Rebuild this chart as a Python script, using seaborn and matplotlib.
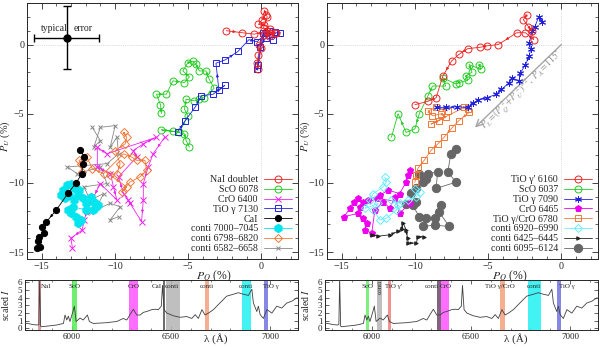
import matplotlib
matplotlib.use("Agg")
import matplotlib.pyplot as plt
from matplotlib.ticker import MultipleLocator
import seaborn as sns

# ---------------- data: left panel (P_Q, P_U in %) ----------------
nai_q = [-2.4, -1.3, -0.5, 0.4, 0.9, 0.6, 0.2, -0.2, 0.05, 0.3, 0.2, 0.4, 0.15, 0.6, 1.0, 0.5, 0.2, -0.15, -0.05, -0.2, -0.3, -0.2]
nai_u = [1.0, 0.85, 0.75, 0.95, 0.8, 1.1, 1.4, 1.45, 1.8, 2.15, 2.45, 2.0, 1.2, 0.85, 0.8, 0.6, 0.7, 0.0, -0.25, -0.75, -1.3, -1.75]

sco1_q = [-6.82, -6.89, -7.16, -6.49, -6.04, -5.25, -4.91, -5.36, -5.02, -4.68, -4.46, -4.23, -3.78, -3.56, -3.22, -3.9, -4.23, -4.57, -5.14, -5.25, -5.02, -5.59, -6.82, -6.04, -5.25, -5.14, -4.91]
sco1_u = [-4.98, -4.35, -3.59, -3.59, -2.63, -2.75, -2.34, -1.91, -1.32, -1.2, -1.44, -1.91, -1.91, -2.51, -3.16, -3.83, -3.95, -4.07, -3.95, -4.67, -5.14, -6.34, -6.17, -6.27, -6.46, -6.94, -7.42]

cro1_q = [-6.6, -7.39, -7.73, -8.06, -8.06, -8.18, -8.96, -9.08, -9.41, -9.75, -8.51, -8.74, -8.06, -7.16, -10.54, -11.2, -11.2, -10.3, -10.1, -9.86, -11.0, -11.55, -11.9, -12.1, -12.23, -13.0, -12.9]
cro1_u = [-6.7, -7.9, -8.85, -10.05, -11.24, -12.8, -11.48, -11.24, -10.77, -9.57, -8.13, -7.66, -7.18, -6.7, -7.9, -7.42, -8.85, -9.33, -10.29, -11.24, -10.05, -11.24, -12.0, -12.7, -13.4, -14.0, -14.7]

tio1_q = [-5.7, -5.2, -4.5, -4.1, -3.3, -2.5, -2.9, -3.1, -2.45, -1.6, -0.85, -0.3, 0.3, 0.9, 1.3, 0.8, 0.3, -0.1, -0.3, -0.2, 0.1, 0.6]
tio1_u = [-6.3, -5.5, -4.5, -3.7, -3.6, -2.95, -3.3, -1.35, -1.1, -0.5, 0.35, 0.2, 0.8, 0.9, 0.85, 0.35, 0.5, -0.2, -1.8, -1.5, 0.8, 0.95]

cai_q = [-12.35, -12.1, -12.2, -12.25, -12.65, -13.2, -14.0, -14.7, -15.0, -14.85, -15.2, -15.25, -15.1, -15.3]
cai_u = [-7.6, -8.13, -8.6, -9.33, -10.0, -10.75, -11.96, -12.85, -13.16, -13.6, -13.9, -14.2, -14.6, -14.7]

c7000_q = [-13.66, -13.55, -13.3, -12.98, -12.76, -12.42, -12.53, -13.1, -13.43, -12.76, -12.2, -11.64, -11.4, -11.18, -11.3, -11.97, -11.52, -11.97, -12.87, -13.2, -12.98, -12.65, -12.31, -12.53]
c7000_u = [-10.88, -10.52, -10.17, -10.05, -10.4, -10.52, -10.88, -10.88, -11.12, -11.24, -11.12, -11.0, -11.36, -11.6, -11.72, -11.48, -11.96, -11.96, -11.72, -11.96, -12.2, -12.44, -12.68, -12.91]

c6798_q = [-9.41, -9.19, -9.3, -9.98, -9.64, -9.86, -10.32, -9.19, -9.53, -8.96, -8.29, -7.84, -7.95, -8.51, -8.85, -9.41, -10.77, -11.55, -11.9, -12.45, -12.34, -12.23]
c6798_u = [-6.34, -6.7, -7.18, -7.66, -8.61, -9.33, -9.45, -10.29, -10.65, -9.93, -9.57, -9.09, -8.37, -8.37, -8.13, -7.9, -9.33, -8.97, -8.13, -8.37, -8.61, -9.21]

c6582_q = [-11.55, -10.99, -11.44, -10.99, -9.98, -10.32, -9.86, -9.75, -10.54, -13.24, -12.57, -10.99, -10.54, -12.12, -11.67, -10.77, -11.22, -11.9, -10.32, -9.64, -10.32, -9.75]
c6582_u = [-5.98, -6.94, -7.42, -5.98, -5.86, -7.42, -6.7, -7.9, -8.61, -8.85, -9.33, -8.85, -10.05, -10.29, -11.24, -10.77, -11.72, -12.2, -11.48, -11.72, -12.68, -12.44]

err_q, err_u = [-13.3], [0.5]
err_dq, err_du = 2.2, 2.3

# ---------------- data: right panel ----------------
tiop_q = [-2.35, -2.6, -2.25, -2.0, -1.9, -2.45, -3.05, -4.3, -5.1, -5.55, -6.4, -7.0, -7.5, -8.1, -8.55, -9.1, -10.0]
tiop_u = [2.15, 1.8, 1.3, 0.95, 0.35, 0.85, 0.85, 0.0, -0.1, -0.2, -0.3, -0.72, -1.2, -2.3, -3.85, -4.1, -4.35]

sco2_q = [-5.6, -5.5, -6.3, -6.1, -6.5, -6.4, -7.0, -7.2, -8.1, -7.9, -8.8, -9.1, -9.7, -10.0, -10.6, -11.15, -11.6]
sco2_u = [-1.45, -1.8, -1.45, -2.0, -2.25, -2.6, -2.75, -2.85, -2.4, -3.0, -3.0, -3.7, -5.0, -6.1, -6.35, -5.0, -6.7]

tio2_q = [-1.3, -1.55, -1.8, -2.0, -2.2, -2.1, -2.2, -2.45, -2.8, -2.9, -3.35, -3.55, -4.1, -4.45, -5.1, -5.7, -6.05, -6.4, -7.15, -7.85, -8.5]
tio2_u = [1.65, 2.0, 1.3, 0.95, 0.1, -0.35, -0.85, -1.45, -2.05, -2.65, -2.4, -2.75, -3.25, -3.6, -3.85, -4.0, -4.25, -4.55, -4.5, -4.55, -4.55]

cro2_q = [-10.36, -10.47, -10.59, -11.04, -11.82, -12.39, -13.18, -13.51, -13.85, -14.19, -14.41, -14.86, -13.85, -13.51, -13.29, -13.4, -12.95, -12.73, -12.16, -11.71, -11.37, -11.04, -10.36, -12.61, -13.74]
cro2_u = [-9.09, -9.45, -9.93, -10.77, -10.53, -10.89, -11.24, -11.36, -11.12, -11.36, -11.84, -12.44, -12.2, -12.56, -12.92, -13.4, -13.64, -11.96, -11.36, -11.84, -11.0, -12.2, -11.48, -11.12, -11.72]

tcro_q = [-7.75, -8.55, -9.1, -8.8, -8.2, -7.9, -8.35, -8.9, -6.65, -6.4, -6.3, -7.0, -7.45, -8.0, -8.45, -8.9, -9.35, -9.8, -9.9, -10.0]
tcro_u = [-4.8, -4.55, -4.8, -5.15, -5.0, -5.25, -5.5, -5.75, -4.55, -4.65, -4.9, -5.5, -6.0, -6.7, -7.2, -7.65, -8.35, -8.95, -9.45, -9.95]

c6920_q = [-12.05, -11.94, -12.16, -12.84, -13.06, -13.4, -12.5, -12.84, -12.39, -11.94, -11.26, -11.15, -11.6, -11.04, -10.47, -9.91, -9.68, -10.02]
c6920_u = [-9.57, -9.93, -10.29, -10.77, -11.24, -11.84, -11.48, -11.96, -12.68, -12.56, -11.96, -11.6, -11.24, -11.48, -11.24, -11.0, -10.65, -10.41]

c6425_q = [-12.95, -12.5, -11.7, -11.15, -10.9, -10.8, -10.6, -10.5, -10.45, -9.9, -9.8, -9.35]
c6425_u = [-13.75, -13.85, -13.75, -13.5, -13.3, -12.9, -13.4, -14.0, -14.35, -14.35, -13.9, -13.9]

c6095_q = [-7.2, -7.55, -7.75, -7.2, -8.55, -8.45, -9.1, -9.7, -9.45, -9.25, -9.9, -10.25, -9.9, -10.6, -10.15, -9.7, -9.25, -8.65, -8.2, -8.35, -7.65, -8.65, -9.45]
c6095_u = [-7.55, -7.9, -9.2, -9.95, -10.4, -9.2, -9.35, -9.35, -9.95, -9.7, -10.4, -10.75, -11.35, -11.5, -11.6, -12.45, -12.55, -12.55, -11.6, -12.1, -13.15, -13.05, -13.15]

# ---------------- spectrum, read against the plotted lambda axis ----------------
wave = [5763, 5786, 5805, 5825, 5833, 5837, 5842, 5847, 5872, 5902, 5923, 5957, 5965, 5974, 5982, 5990, 6007, 6012, 6021,
        6041, 6057, 6078, 6088, 6108, 6141, 6175, 6206, 6226, 6259, 6277, 6293, 6310, 6327, 6344, 6361, 6377, 6403,
        6420, 6436, 6451, 6457, 6465, 6479, 6512, 6546, 6579, 6605, 6622, 6638, 6656, 6672, 6689, 6714, 6731, 6756,
        6781, 6815, 6840, 6865, 6891, 6908, 6916, 6933, 6941, 6950, 6966, 6984, 7009, 7034, 7059, 7084, 7110, 7137]
flux = [0.7, 0.6, 0.5, 0.45, 0.5, 6.6, 0.3, 0.22, 0.3, 0.38, 0.45, 0.65, 1.75, 1.1, 1.6, 0.9, 2.4, 2.9, 0.9,
        1.35, 1.1, 1.75, 0.9, 0.65, 0.7, 0.75, 0.85, 0.9, 1.3, 1.1, 1.8, 2.5, 1.75, 1.75, 2.1, 2.2, 2.45,
        2.5, 2.45, 2.9, 5.6, 2.45, 2.0, 1.65, 1.45, 1.55, 1.3, 1.8, 1.3, 2.45, 1.75, 2.0, 2.45, 2.9, 3.55,
        4.2, 4.45, 4.65, 4.45, 4.3, 5.1, 3.3, 2.2, 2.9, 1.8, 1.3, 2.45, 2.0, 2.9, 2.65, 3.3, 3.55, 4.0]

# bands: (start, end, colour, label, label x)
bands_left = [(5830, 5844, "#d48a8a", "NaI", 5870), (5999, 6023, "#55ee55", "ScO", 6011),
              (6287, 6333, "#ff55ff", "CrO", 6310), (6459, 6472, "#555555", "CaI", 6427),
              (6475, 6545, "#b4b4b4", "conti", 6505), (6674, 6694, "#f4a07c", "conti", 6682),
              (6860, 6902, "#22f0f0", "conti", 6876), (6969, 6991, "#7272e2", "TiO γ", 7003)]
bands_right = [(5971, 5987, "#66ee66", "ScO", 5979), (6026, 6053, "#b4b4b4", "conti", 6040),
               (6079, 6097, "#f08080", "TiO γ'", 6110), (6330, 6349, "#6a4a6a", "conti", 6303),
               (6349, 6390, "#ff55ff", "CrO", 6372), (6647, 6671, "#f4a07c", "TiO γ/CrO", 6644),
               (6787, 6851, "#22f0f0", "conti", 6819), (6934, 6952, "#7272e2", "TiO γ", 6985)]

sns.set_theme(style="ticks")
plt.rcParams["font.family"] = ["Liberation Serif", "DejaVu Serif"]
plt.rcParams["mathtext.fontset"] = "stix"
plt.rcParams["xtick.direction"] = "in"
plt.rcParams["ytick.direction"] = "in"


def add_arrows(ax, xs, ys, color, step=2):
    for i in range(0, len(xs) - 1, step):
        x0, y0, x1, y1 = xs[i], ys[i], xs[i + 1], ys[i + 1]
        ax.annotate("", xy=(x0 + 0.6 * (x1 - x0), y0 + 0.6 * (y1 - y0)),
                    xytext=(x0 + 0.5 * (x1 - x0), y0 + 0.5 * (y1 - y0)),
                    arrowprops=dict(arrowstyle="-|>", color=color, lw=0.5, mutation_scale=4,
                                    shrinkA=0, shrinkB=0))


def series(ax, xs, ys, color, marker, label, ms=5, filled=False, arrows=True, z=2):
    sns.lineplot(x=xs, y=ys, sort=False, estimator=None, errorbar=None, ax=ax, color=color,
                 lw=0.6, marker=marker, ms=ms, markerfacecolor=color if filled else "none",
                 markeredgecolor=color, markeredgewidth=0.7, label=label, zorder=z)
    if arrows:
        add_arrows(ax, xs, ys, color)


def style_main(ax, xlab_x):
    ax.set_xlim(-16, 2.5)
    ax.set_ylim(-15.5, 3)
    ax.axhline(0, color="0.75", lw=0.5, ls=":", zorder=0)
    ax.axvline(0, color="0.75", lw=0.5, ls=":", zorder=0)
    ax.xaxis.set_major_locator(MultipleLocator(5))
    ax.yaxis.set_major_locator(MultipleLocator(5))
    ax.xaxis.set_minor_locator(MultipleLocator(1))
    ax.yaxis.set_minor_locator(MultipleLocator(1))
    ax.tick_params(which="both", top=True, right=True, labelsize=7.2, pad=2)
    ax.tick_params(which="major", length=4, width=0.6)
    ax.tick_params(which="minor", length=2, width=0.5)
    ax.set_xlabel(r"$P_Q$ (%)", fontsize=8.5)
    ax.xaxis.set_label_coords(xlab_x, -0.035)
    ax.set_ylabel(r"$P_U$ (%)", fontsize=7.5)
    ax.yaxis.set_label_coords(-0.054, 0.48)
    for s in ax.spines.values():
        s.set_linewidth(0.7)


def legend_main(ax):
    ax.legend(loc="lower right", frameon=False, markerfirst=False, fontsize=7.2,
              handlelength=2.8, handletextpad=0.6, labelspacing=0.08, borderaxespad=0.2)


def style_spec(ax, wl, fl, bands):
    for lo, hi, col, txt, tx in bands:
        ax.axvspan(lo, hi, color=col, alpha=0.85, lw=0, zorder=1)
        rot = 90 if (txt == "conti" and tx < 6100) else 0
        ax.text(tx, 5.45, txt, fontsize=5, ha="center", va="center", rotation=rot, zorder=4)
    sns.lineplot(x=wl, y=fl, sort=False, estimator=None, errorbar=None, ax=ax, color="0.25",
                 lw=0.6, zorder=3)
    ax.set_xlim(5763, 7141)
    ax.set_ylim(-0.2, 6.3)
    ax.xaxis.set_major_locator(MultipleLocator(500))
    ax.xaxis.set_minor_locator(MultipleLocator(100))
    ax.yaxis.set_major_locator(MultipleLocator(1))
    ax.tick_params(which="both", top=True, right=True, labelsize=6.5, pad=2)
    ax.tick_params(which="major", length=3, width=0.5)
    ax.tick_params(which="minor", length=1.5, width=0.4)
    ax.set_xlabel("λ (Å)", fontsize=8)
    ax.xaxis.set_label_coords(0.70, -0.17)
    ax.xaxis.label.set_verticalalignment("center")
    ax.set_ylabel(r"scaled $I$", fontsize=7)
    ax.yaxis.set_label_coords(-0.05, 0.5)
    for s in ax.spines.values():
        s.set_linewidth(0.7)


fig = plt.figure(figsize=(6, 3.47), dpi=100)
ax1 = fig.add_axes([27 / 600, 1 - 259 / 347, 271 / 600, 256 / 347])
ax2 = fig.add_axes([327 / 600, 1 - 259 / 347, 271 / 600, 256 / 347])
ax3 = fig.add_axes([25 / 600, 1 - 330 / 347, 273 / 600, 50 / 347])
ax4 = fig.add_axes([325 / 600, 1 - 330 / 347, 273 / 600, 50 / 347])

# left panel
series(ax1, nai_q, nai_u, "#ee2222", "o", "NaI doublet", z=5)
series(ax1, sco1_q, sco1_u, "#22cc22", "o", "ScO 6078", z=3)
series(ax1, cro1_q, cro1_u, "#ee22ee", "x", "CrO 6400", z=3)
series(ax1, tio1_q, tio1_u, "#2222dd", "s", "TiO γ 7130", z=4)
series(ax1, cai_q, cai_u, "black", "o", "CaI", ms=4.5, filled=True, z=6)
series(ax1, c7000_q, c7000_u, "#00e5ee", "h", "conti 7000–7045", ms=6, filled=True, arrows=False, z=4)
series(ax1, c6798_q, c6798_u, "#f07838", "D", "conti 6798–6820", ms=4, z=3)
series(ax1, c6582_q, c6582_u, "#888888", "x", "conti 6582–6658", ms=3, arrows=False, z=2)
ax1.errorbar(err_q, err_u, xerr=err_dq, yerr=err_du, fmt="o", color="black", ms=5, lw=1,
             capsize=3, capthick=1, zorder=6)
ax1.text(-14.1, 0.95, "typical", fontsize=7, ha="center")
ax1.text(-12.2, 0.95, "error", fontsize=7, ha="center")
style_main(ax1, 0.69)
legend_main(ax1)

# right panel
series(ax2, tiop_q, tiop_u, "#ee2222", "o", "TiO γ' 6160", z=5)
series(ax2, sco2_q, sco2_u, "#22cc22", "o", "ScO 6037", z=4)
series(ax2, tio2_q, tio2_u, "#2222dd", (6, 2, 0), "TiO γ 7090", z=4)
series(ax2, cro2_q, cro2_u, "#ee00ee", "p", "CrO 6465", ms=5, filled=True, arrows=False, z=3)
series(ax2, tcro_q, tcro_u, "#f07838", "s", "TiO γ/CrO 6780", z=3)
series(ax2, c6920_q, c6920_u, "#66eeff", "D", "conti 6920–6990", ms=4.5, arrows=False, z=3)
series(ax2, c6425_q, c6425_u, "#222222", ">", "conti 6425–6445", ms=2.5, filled=True, z=4)
series(ax2, c6095_q, c6095_u, "#666666", "o", "conti 6095–6124", ms=6, filled=True, arrows=False, z=2)
ax2.annotate("", xy=(-5.9, -6.0), xytext=(0, 0),
             arrowprops=dict(arrowstyle="->", color="0.65", lw=1.0, shrinkA=0, shrinkB=0))
ax2.text(-2.7, -3.3, r"$P_L\!=\!(P_Q^{\ 2}\!+\!P_U^{\ 2})^{1/2},\ P_A\!=\!115^{\circ}$",
         color="0.6", fontsize=7, rotation=44, ha="center", va="center", rotation_mode="anchor")
style_main(ax2, 0.675)
legend_main(ax2)

# spectra
style_spec(ax3, wave, flux, bands_left)
style_spec(ax4, wave, flux, bands_right)

fig.savefig("out.png", dpi=100)
